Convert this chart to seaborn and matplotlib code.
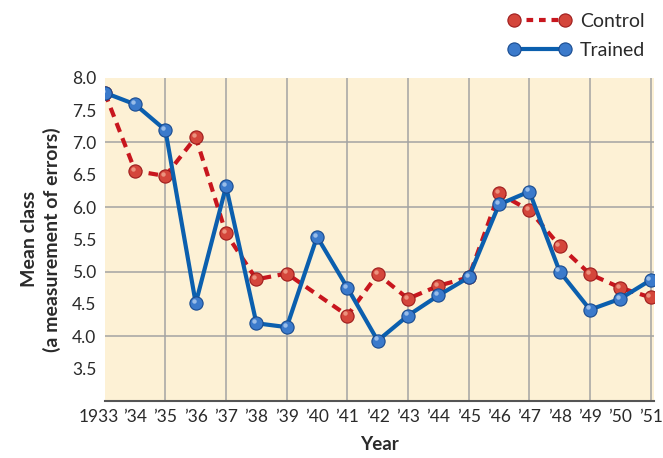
import matplotlib
matplotlib.use("Agg")
import matplotlib.pyplot as plt
import matplotlib.transforms as mtransforms
from matplotlib.lines import Line2D
import seaborn as sns
import pandas as pd

# Mean class (errors) per year for the two rat strains
years = list(range(1933, 1952))
trained = [7.77, 7.59, 7.19, 4.51, 6.32, 4.20, 4.14, 5.54, 4.75, 3.93,
           4.32, 4.63, 4.91, 6.04, 6.24, 5.00, 4.41, 4.58, 4.87]
control_years = [1933, 1934, 1935, 1936, 1937, 1938, 1939, 1941, 1942,
                 1943, 1944, 1945, 1946, 1947, 1948, 1949, 1950, 1951]
control = [7.77, 6.56, 6.48, 7.08, 5.59, 4.88, 4.97, 4.32, 4.96,
           4.58, 4.78, 4.91, 6.21, 5.95, 5.40, 4.96, 4.75, 4.60]
year_labels = ["1933"] + ["\u2019" + str(y)[2:] for y in years[1:]]
y_ticks = [3.5, 4.0, 4.5, 5.0, 5.5, 6.0, 6.5, 7.0, 7.5, 8.0]

sns.set_style("white")
plt.rcParams["font.family"] = ["Lato", "DejaVu Sans"]

RED = "#c8161e"
RED_M = "#d4463b"
RED_E = "#9e1c1c"
RED_H = "#f0a08a"
BLUE = "#0b5fae"
BLUE_M = "#3b7acb"
BLUE_E = "#184b90"
BLUE_H = "#a9c8ee"
GRID = "#a3a3a3"
TEXT = "#2a2a2a"
MS = 9.5

fig = plt.figure(figsize=(6.63, 4.58), dpi=100)
ax = fig.add_axes([0.158, 0.125, 0.828, 0.705])
ax.set_facecolor("#fdf1d5")

df_c = pd.DataFrame({"year": control_years, "value": control})
df_t = pd.DataFrame({"year": years, "value": trained})

# small offset for the glossy highlight on each ball marker
hl = mtransforms.offset_copy(ax.transData, fig=fig, x=-2.2, y=2.2,
                             units="dots")

sns.lineplot(data=df_c, x="year", y="value", ax=ax, color=RED, lw=3,
             linestyle=(0, (2.3, 1.6)), marker="o", markersize=MS,
             markerfacecolor=RED_M, markeredgecolor=RED_E,
             markeredgewidth=0.8, zorder=3)
ax.plot(control_years, control, ls="none", marker="o", markersize=3.2,
        markerfacecolor=RED_H, markeredgewidth=0, alpha=0.85,
        transform=hl, zorder=3.1)
sns.lineplot(data=df_t, x="year", y="value", ax=ax, color=BLUE, lw=3,
             marker="o", markersize=MS, markerfacecolor=BLUE_M,
             markeredgecolor=BLUE_E, markeredgewidth=0.8, zorder=4)
ax.plot(years, trained, ls="none", marker="o", markersize=3.2,
        markerfacecolor=BLUE_H, markeredgewidth=0, alpha=0.85,
        transform=hl, zorder=4.1)

ax.set_xlim(1933, 1951.1)
ax.set_ylim(3.0, 8.0)

# grid: odd years and whole numbers
for yr in range(1935, 1952, 2):
    ax.axvline(yr, color=GRID, lw=1.1, zorder=1)
for v in range(4, 8):
    ax.axhline(v, color=GRID, lw=1.1, zorder=1)

ax.set_xticks(years)
ax.set_xticklabels(year_labels)
ax.set_yticks(y_ticks)
ax.set_yticklabels([f"{v:.1f}" for v in y_ticks])

ax.tick_params(axis="x", direction="in", length=10, width=1.1, color=GRID,
               labelsize=12.5, labelcolor=TEXT, pad=6)
ax.tick_params(axis="y", direction="in", length=10, width=1.1, color=GRID,
               labelsize=12.5, labelcolor=TEXT, pad=6)

# nudge the full-year label left so it clears the next one
first = ax.get_xticklabels()[0]
first.set_transform(first.get_transform() +
                    mtransforms.ScaledTranslation(-6 / 100, 0,
                                                  fig.dpi_scale_trans))

for s in ["top", "right", "left"]:
    ax.spines[s].set_visible(False)
ax.spines["bottom"].set_color("#555555")
ax.spines["bottom"].set_linewidth(1.5)

ax.set_xlabel("Year", fontsize=13.5, fontweight="bold", color=TEXT,
              labelpad=8)
ax.set_ylabel("Mean class\n(a measurement of errors)", fontsize=14,
              fontweight="bold", color=TEXT, labelpad=8, linespacing=1.3)

handles = [
    Line2D([], [], color=RED, lw=3, linestyle=(0, (1.6, 1.4)), marker="o",
           markersize=MS, markerfacecolor=RED_M, markeredgecolor=RED_E,
           markeredgewidth=0.8),
    Line2D([], [], color=BLUE, lw=3, marker="o", markersize=MS,
           markerfacecolor=BLUE_M, markeredgecolor=BLUE_E,
           markeredgewidth=0.8),
]
fig.legend(handles, ["Control", "Trained"], loc="upper right",
           bbox_to_anchor=(1.0, 1.01), frameon=False, numpoints=2,
           handlelength=3.2, fontsize=14, labelcolor=TEXT,
           handletextpad=0.5, labelspacing=0.6)

fig.savefig("out.png", dpi=100)
